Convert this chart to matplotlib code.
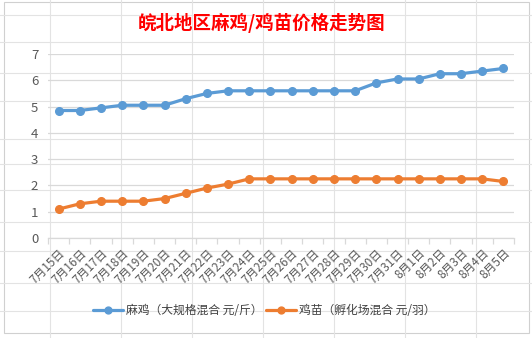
import matplotlib
matplotlib.use("Agg")
import matplotlib.pyplot as plt
from matplotlib.patches import Rectangle
from matplotlib.lines import Line2D

plt.rcParams['font.family'] = ['Noto Sans CJK SC', 'DejaVu Sans']

dates = ["7月15日", "7月16日", "7月17日", "7月18日", "7月19日", "7月20日", "7月21日",
         "7月22日", "7月23日", "7月24日", "7月25日", "7月26日", "7月27日", "7月28日",
         "7月29日", "7月30日", "7月31日", "8月1日", "8月2日", "8月3日", "8月4日", "8月5日"]
majia = [4.85, 4.85, 4.95, 5.05, 5.05, 5.05, 5.3, 5.5, 5.6, 5.6, 5.6, 5.6, 5.6, 5.6,
         5.6, 5.9, 6.05, 6.05, 6.25, 6.25, 6.35, 6.45]
jimiao = [1.1, 1.3, 1.4, 1.4, 1.4, 1.5, 1.7, 1.9, 2.05, 2.25, 2.25, 2.25, 2.25, 2.25,
          2.25, 2.25, 2.25, 2.25, 2.25, 2.25, 2.25, 2.15]
series_names = ["麻鸡（大规格混合 元/斤）", "鸡苗（孵化场混合 元/羽）"]
title = "皖北地区麻鸡/鸡苗价格走势图"
yticks = [0, 1, 2, 3, 4, 5, 6, 7]

W, H = 532, 338
fig = plt.figure(figsize=(W / 100, H / 100), dpi=100)
fig.patch.set_facecolor("white")

# spreadsheet background grid (visible only around the chart box)
grid_c = "#e3e3e3"
for x in [50, 121, 192, 263, 334, 405, 476]:
    fig.add_artist(Line2D([x / W, x / W], [0, 1], color=grid_c, lw=0.8))
for y in [15, 42, 73, 101, 139, 164, 190, 222, 251, 283, 311]:
    fig.add_artist(Line2D([0, 1], [1 - y / H, 1 - y / H], color=grid_c, lw=0.8))

# chart box
fig.add_artist(Rectangle((4 / W, 1 - 333 / H), (529 - 4) / W, (333 - 2) / H,
                         facecolor="white", edgecolor="#d0d0d0", lw=0.8, zorder=1))

ax = fig.add_axes([48 / W, 1 - 238 / H, 466 / W, 184 / H], zorder=2)
ax.patch.set_alpha(0)
x = list(range(len(dates)))
blue = "#5B9BD5"
orange = "#ED7D31"
ax.plot(x, majia, color=blue, lw=2.3, marker="o", ms=5.5, label=series_names[0],
        solid_capstyle="round", zorder=3)
ax.plot(x, jimiao, color=orange, lw=2.3, marker="o", ms=5.5, label=series_names[1],
        solid_capstyle="round", zorder=3)

ax.set_xlim(-0.5, len(dates) - 0.5)
ax.set_ylim(0, 7)
ax.set_yticks(yticks)
ax.set_yticklabels([str(v) for v in yticks], fontsize=9.5, color="#595959")
ax.yaxis.grid(True, color="#d9d9d9", lw=0.9)
ax.set_axisbelow(True)
for s in ["top", "right", "left"]:
    ax.spines[s].set_visible(False)
ax.spines["bottom"].set_color("#d9d9d9")
ax.spines["bottom"].set_linewidth(0.9)
ax.tick_params(axis="y", length=0, pad=7)

ax.set_xticks(x)
ax.set_xticklabels(dates, rotation=45, ha="right", va="top", rotation_mode="anchor",
                   fontsize=8.5, color="#595959")
ax.tick_params(axis="x", which="major", length=0, pad=6)
ax.set_xticks([i - 0.5 for i in range(len(dates) + 1)], minor=True)
ax.tick_params(axis="x", which="minor", length=4, color="#d9d9d9", width=0.9)

fig.text(262 / W, 1 - 23 / H, title, color="#FF0000", fontsize=13.3, fontweight="bold",
         ha="center", va="center")

leg = fig.legend(handles=ax.get_lines(), labels=series_names, loc="center",
                 bbox_to_anchor=(264 / W, 1 - 311 / H), ncol=2, frameon=False,
                 fontsize=8.5, handlelength=2.6, columnspacing=0.3, handletextpad=0.2,
                 markerscale=0.9)
for t in leg.get_texts():
    t.set_color("#404040")

fig.savefig("out.png", dpi=100, facecolor="white")
